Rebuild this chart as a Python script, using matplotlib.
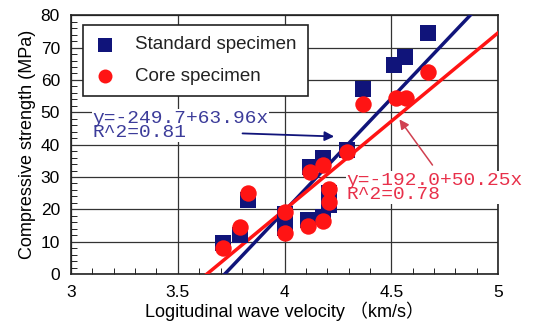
import matplotlib
matplotlib.use("Agg")
import matplotlib.pyplot as plt
import numpy as np
from matplotlib.ticker import MultipleLocator

# data
v_std = [3.71, 3.79, 3.83, 4.00, 4.00, 4.11, 4.18, 4.21, 4.21, 4.12, 4.18, 4.29, 4.365, 4.51, 4.565, 4.67]
s_std = [9.6, 12.0, 22.8, 18.5, 14.2, 16.7, 17.6, 25.0, 21.3, 33.0, 35.8, 38.5, 57.1, 64.5, 67.0, 74.4]
v_core = [3.71, 3.79, 3.83, 4.00, 4.00, 4.11, 4.18, 4.21, 4.21, 4.12, 4.18, 4.29, 4.365, 4.52, 4.57, 4.67]
s_core = [8.0, 14.5, 25.0, 19.1, 12.7, 14.8, 16.4, 26.2, 22.2, 31.5, 33.6, 37.7, 52.5, 54.3, 54.3, 62.3]

# fitted lines as drawn (intercept, slope)
fit_std = (-258.9, 69.6)
fit_core = (-198.9, 54.7)
eq_std = "y=-249.7+63.96x\nR^2=0.81"
eq_core = "y=-192.0+50.25x\nR^2=0.78"

navy = "#10147a"
red = "#ff1414"

fig = plt.figure(figsize=(5.38, 3.31), dpi=100)
ax = fig.add_axes([0.132, 0.172, 0.794, 0.782])

ax.set_xlim(3, 5)
ax.set_ylim(0, 80)
ax.xaxis.set_major_locator(MultipleLocator(0.5))
ax.xaxis.set_minor_locator(MultipleLocator(0.1))
ax.yaxis.set_major_locator(MultipleLocator(10))
ax.yaxis.set_minor_locator(MultipleLocator(2))
ax.set_xticks([3, 3.5, 4, 4.5, 5])
ax.set_xticklabels(["3", "3.5", "4", "4.5", "5"])
ax.grid(True, which="major", color="#333333", lw=0.9)
ax.tick_params(which="both", direction="in", top=False, right=False, labelsize=12.5)
ax.tick_params(which="major", length=0, pad=8)
ax.tick_params(which="minor", length=4)
for sp in ax.spines.values():
    sp.set_linewidth(1.2)
    sp.set_color("#222222")
for lab in ax.get_xticklabels() + ax.get_yticklabels():
    lab.set_family("Liberation Sans")

# regression lines
xx = np.linspace(3, 5, 200)
y1 = fit_std[0] + fit_std[1] * xx
y2 = fit_core[0] + fit_core[1] * xx
ax.plot(xx, y1, color=navy, lw=2.5, zorder=3)
ax.plot(xx, y2, color=red, lw=2.5, zorder=3)

ax.scatter(v_std, s_std, marker="s", s=130, color=navy, zorder=4, label="Standard specimen", linewidths=0)
ax.scatter(v_core, s_core, marker="o", s=140, color=red, zorder=5, label="Core specimen", linewidths=0)

leg = ax.legend(loc="upper left", bbox_to_anchor=(0.028, 0.962), borderaxespad=0,
                frameon=True, fancybox=False,
                edgecolor="#222222", framealpha=1, borderpad=0.6, labelspacing=0.75,
                handlelength=1.2, handletextpad=1.0, markerscale=0.85, labelcolor="#222222",
                prop={"family": "Liberation Sans", "size": 13.5})
leg.get_frame().set_linewidth(1.2)

# equation labels with arrows
ax.text(3.1, 46.0, eq_std, family="Liberation Mono", fontsize=14, color="#3c3c9a",
        linespacing=0.8, va="center", ha="left", zorder=6,
        bbox=dict(facecolor="white", edgecolor="none", pad=0.5))
ax.annotate("", xy=(4.245, 42.5), xytext=(3.79, 43.5),
            arrowprops=dict(arrowstyle="-|>", color=navy, lw=1.3, mutation_scale=14), zorder=6)
ax.text(4.29, 26.8, eq_core, family="Liberation Mono", fontsize=14, color="#e8304a",
        linespacing=0.8, va="center", ha="left", zorder=6,
        bbox=dict(facecolor="white", edgecolor="none", pad=0.5))
ax.annotate("", xy=(4.53, 48.5), xytext=(4.70, 33.0),
            arrowprops=dict(arrowstyle="-|>", color="#d04050", lw=1.1, mutation_scale=14), zorder=6)

ax.set_xlabel("Logitudinal wave velocity （km/s）", family=["Liberation Sans", "Noto Sans CJK JP"],
              fontsize=13, labelpad=1)
ax.set_ylabel("Compressive strength (MPa)", family="Liberation Sans", fontsize=13, labelpad=3)

fig.savefig("out.png", dpi=100)
